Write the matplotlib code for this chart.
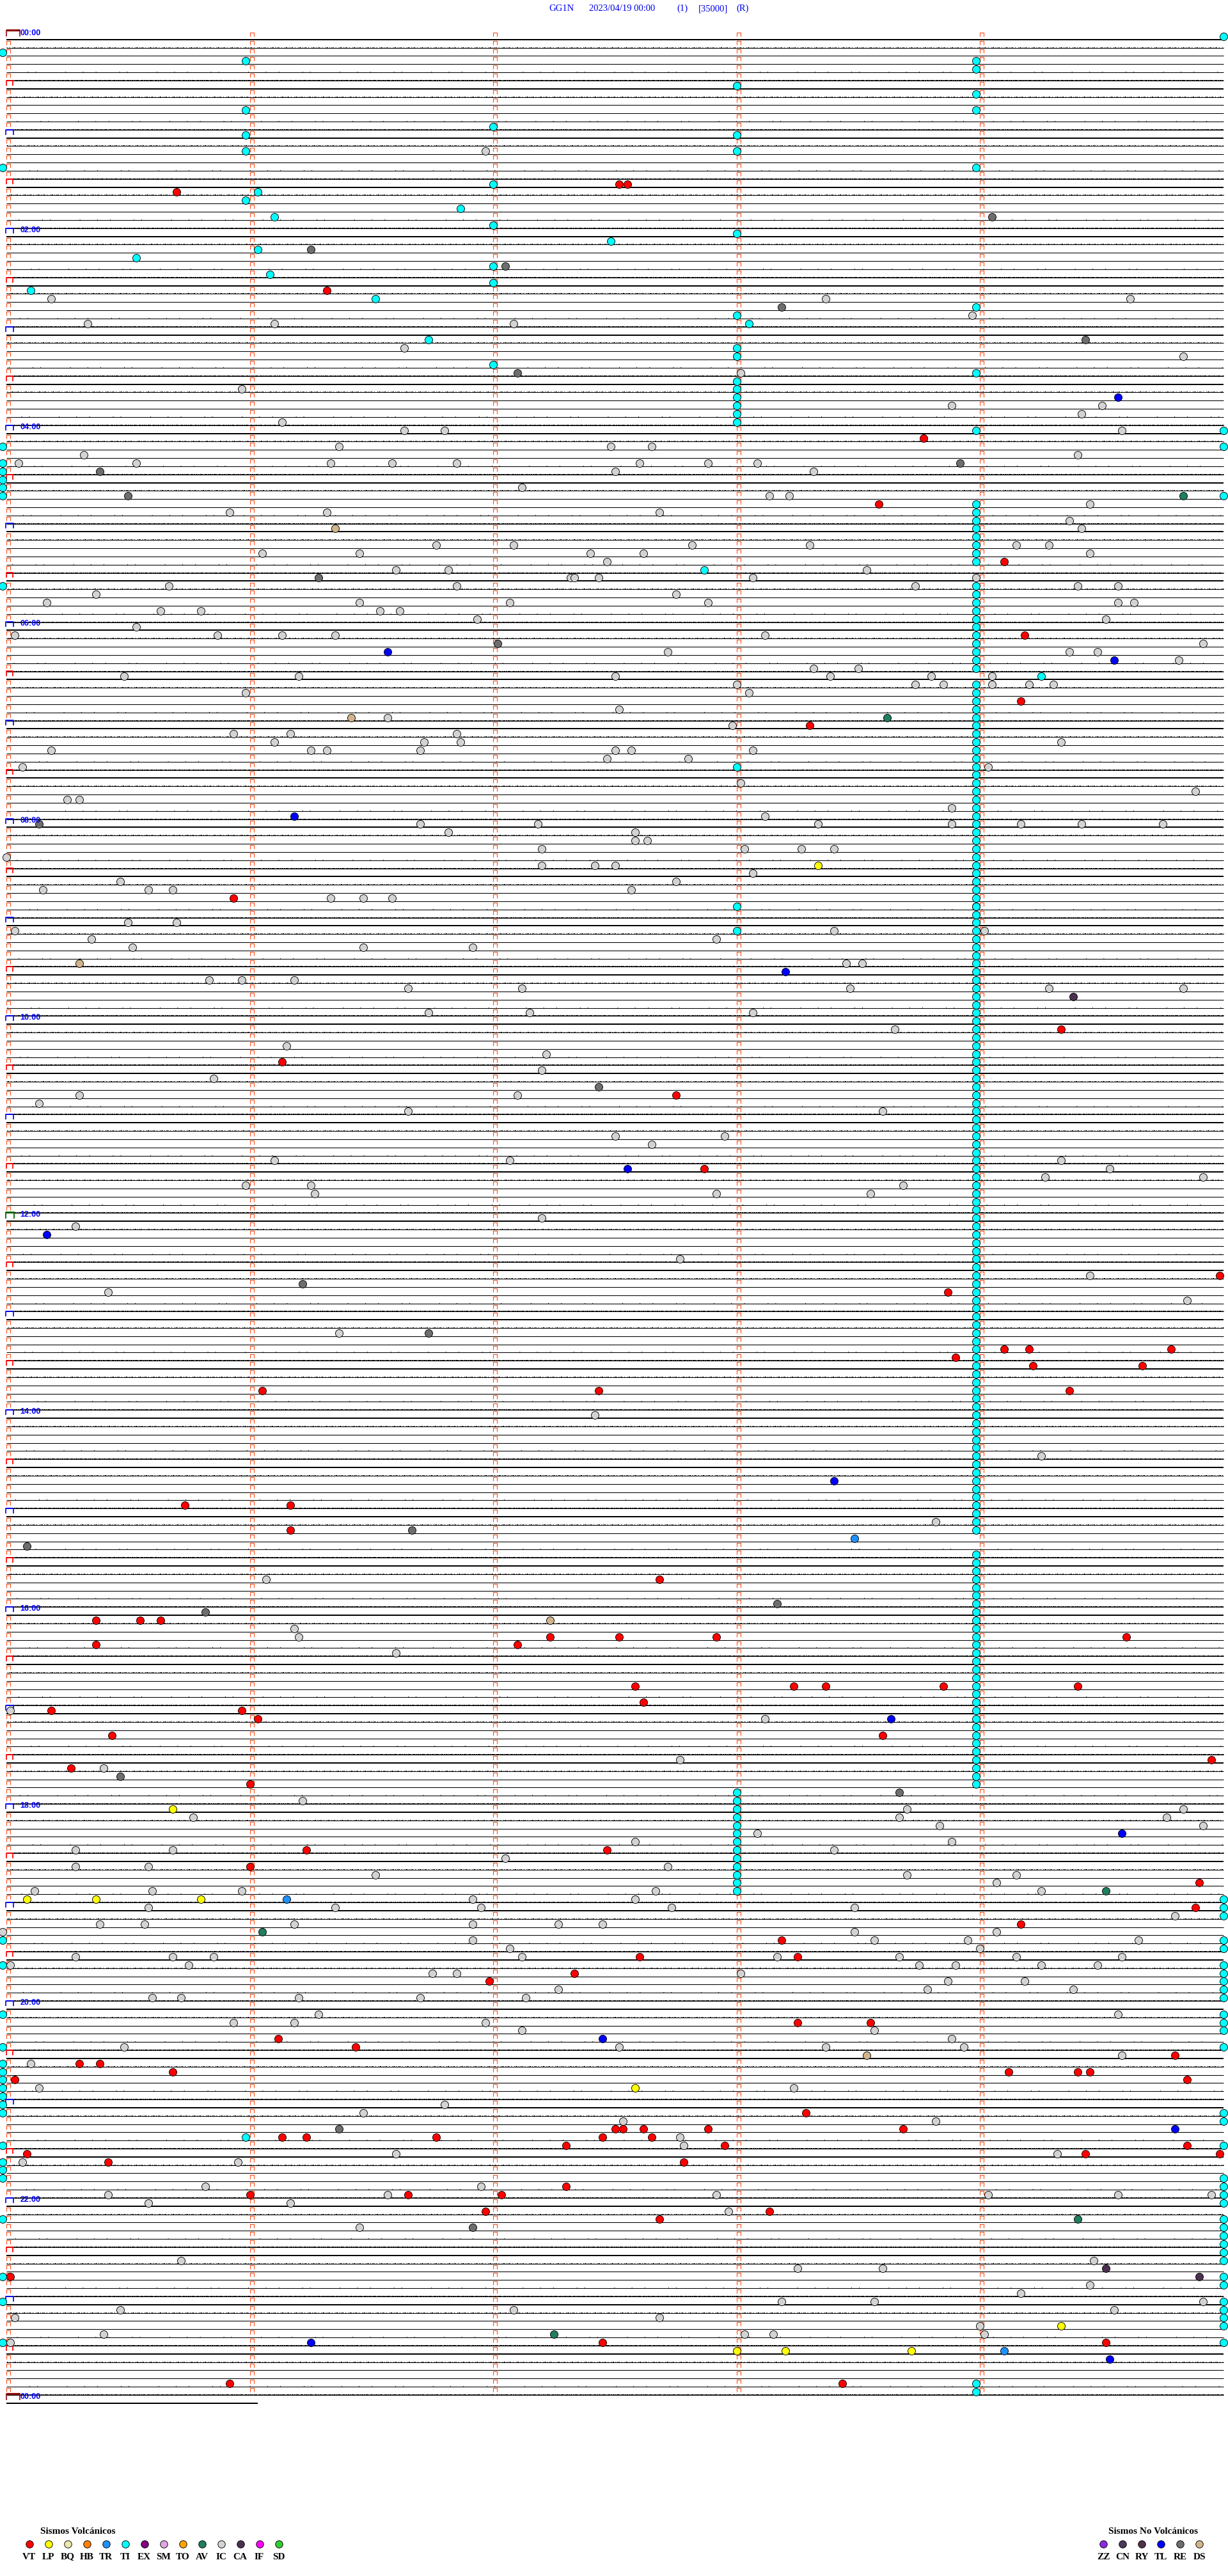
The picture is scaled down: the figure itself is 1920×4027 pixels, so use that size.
import matplotlib
matplotlib.use("Agg")
import matplotlib.pyplot as plt
from matplotlib.path import Path

plt.rcParams['lines.scale_dashes'] = False
plt.rcParams['font.family'] = ['Liberation Serif', 'DejaVu Serif']

# ------------------------------------------------------------------ data
TITLE_TOKENS = ["GG1N", "2023/04/19 00:00", "(1)", "[35000]", "(R)"]
N_TRACES = 288            # 5-minute traces over 24 h
SEC_PER_LINE = 300
LAST_TRACE_SEC = 62        # partial trace starting 24:00
HOUR_LABELS = ['00:00', '02:00', '04:00', '06:00', '08:00', '10:00', '12:00',
               '14:00', '16:00', '18:00', '20:00', '22:00', '00:00']
HOUR_LABEL_LINES = [0, 24, 48, 72, 96, 120, 144, 168, 192, 216, 240, 264, 288]

# TI events that sit on the minute columns: (second in trace, [trace indices])
TI_COL_SEC = [-1, 59, 120, 180, 239, 300]
TI_COL_LINES = [
    [2, 16, 50, 52, 53, 54, 55, 56, 67, 232, 235, 241, 245, 247, 248, 249, 250, 251,
     252, 253, 257, 259, 260, 261, 266, 273, 276, 281],
    [3, 9, 12, 14, 20, 256],
    [11, 18, 23, 28, 30, 40],
    [6, 12, 14, 24, 34, 38, 39, 42, 43, 44, 45, 46, 47, 89, 106, 109, 214, 215, 216,
     217, 218, 219, 220, 221, 222, 223, 224, 225, 226],
    [3, 4, 7, 9, 16, 33, 41, 48, 57, 58, 59, 60, 61, 62, 63, 64, 67, 68, 69, 70, 71, 72,
     73, 74, 75, 76, 77, 79, 80, 81, 82, 83, 84, 85, 86, 87, 88, 89, 90, 91, 92, 93, 94,
     95, 96, 97, 98, 99, 100, 101, 102, 103, 104, 105, 106, 107, 108, 109, 110, 111, 112,
     113, 114, 115, 116, 117, 118, 119, 120, 121, 122, 123, 124, 125, 126, 127, 128, 129,
     130, 131, 132, 133, 134, 135, 136, 137, 138, 139, 140, 141, 142, 143, 144, 145, 146,
     147, 148, 149, 150, 151, 152, 153, 154, 155, 156, 157, 158, 159, 160, 161, 162, 163,
     164, 165, 166, 167, 168, 169, 170, 171, 172, 173, 174, 175, 176, 177, 178, 179, 180,
     181, 182, 185, 186, 187, 188, 189, 190, 191, 192, 193, 194, 195, 196, 197, 198, 199,
     200, 201, 202, 203, 204, 205, 206, 207, 208, 209, 210, 211, 212, 213, 286, 287],
    [0, 48, 50, 56, 227, 228, 229, 232, 233, 235, 236, 237, 238, 239, 241, 242, 243, 245,
     253, 254, 257, 261, 262, 263, 264, 266, 267, 268, 269, 270, 271, 273, 274, 276, 277,
     278, 279, 281],
]
# other events: (trace index, second within trace)
TI_OTHER = [(19, 62), (21, 112), (22, 66), (25, 149), (26, 62), (27, 32), (29, 65), (31, 6),
            (32, 91), (35, 183), (37, 104), (65, 172), (78, 255)]

IC = [(14, 118), (32, 11), (32, 202), (32, 277), (34, 238), (35, 20), (35, 66), (35, 125),
      (38, 98), (39, 290), (41, 181), (43, 58), (45, 233), (45, 270), (46, 265), (47, 68),
      (48, 98), (48, 108), (48, 275), (50, 82), (50, 149), (50, 159), (51, 19), (51, 264),
      (52, 3), (52, 32), (52, 80), (52, 95), (52, 111), (52, 156), (52, 173), (52, 185),
      (53, 150), (53, 199), (55, 127), (56, 188), (56, 193), (57, 267), (58, 55), (58, 79),
      (58, 161), (59, 262), (60, 265), (62, 106), (62, 125), (62, 169), (62, 198), (62, 249),
      (62, 257), (63, 63), (63, 87), (63, 144), (63, 157), (63, 267), (64, 148), (65, 96),
      (65, 109), (65, 212), (66, 139), (66, 140), (66, 146), (66, 184), (66, 239), (67, 40),
      (67, 111), (67, 224), (67, 264), (67, 274), (68, 22), (68, 165), (69, 10), (69, 87),
      (69, 124), (69, 173), (69, 274), (69, 278), (70, 38), (70, 48), (70, 92), (70, 97),
      (71, 116), (71, 271), (72, 32), (73, 2), (73, 52), (73, 68), (73, 81), (73, 187),
      (74, 295), (75, 163), (75, 262), (75, 269), (76, 289), (77, 199), (77, 210), (78, 29),
      (78, 72), (78, 150), (78, 203), (78, 228), (78, 243), (79, 180), (79, 224), (79, 231),
      (79, 243), (79, 252), (79, 258), (80, 59), (80, 183), (82, 151), (83, 94), (84, 179),
      (85, 56), (85, 70), (85, 111), (86, 66), (86, 103), (86, 112), (86, 260), (87, 11),
      (87, 75), (87, 79), (87, 102), (87, 150), (87, 154), (87, 184), (88, 148), (88, 168),
      (89, 4), (89, 242), (91, 181), (92, 293), (93, 15), (93, 18), (94, 233), (95, 187),
      (96, 102), (96, 131), (96, 200), (96, 233), (96, 250), (96, 265), (96, 285), (97, 109),
      (97, 155), (98, 155), (98, 158), (99, 132), (99, 182), (99, 196), (99, 204), (100, 0),
      (101, 132), (101, 145), (101, 150), (102, 184), (103, 28), (103, 165), (104, 9),
      (104, 35), (104, 41), (104, 154), (105, 80), (105, 88), (105, 95), (106, 239),
      (108, 30), (108, 42), (109, 2), (109, 204), (109, 241), (110, 21), (110, 175),
      (111, 31), (111, 88), (111, 115), (113, 207), (113, 211), (115, 50), (115, 58),
      (115, 71), (116, 99), (116, 127), (116, 208), (116, 257), (116, 290), (119, 104),
      (119, 129), (119, 184), (121, 219), (123, 69), (124, 133), (126, 132), (127, 51),
      (129, 18), (129, 126), (130, 8), (131, 99), (131, 216), (134, 150), (134, 177),
      (135, 159), (137, 66), (137, 124), (137, 260), (138, 272), (139, 256), (139, 295),
      (140, 59), (140, 75), (140, 221), (141, 76), (141, 175), (141, 213), (144, 132),
      (145, 17), (149, 166), (151, 267), (153, 25), (154, 291), (158, 82), (168, 145),
      (173, 255), (181, 229), (188, 64), (194, 71), (195, 72), (197, 96), (204, 1),
      (205, 187), (210, 166), (211, 24), (215, 73), (216, 222), (216, 290), (217, 46),
      (217, 220), (217, 286), (218, 230), (218, 295), (219, 185), (220, 155), (220, 233),
      (221, 17), (221, 41), (221, 204), (222, 123), (223, 17), (223, 35), (223, 163),
      (224, 91), (224, 222), (224, 249), (225, 244), (226, 7), (226, 36), (226, 58),
      (226, 160), (226, 255), (227, 115), (227, 155), (228, 35), (228, 81), (228, 117),
      (228, 164), (228, 209), (229, 288), (230, 23), (230, 34), (230, 71), (230, 115),
      (230, 136), (230, 147), (231, -1), (231, 209), (231, 244), (232, 115), (232, 214),
      (232, 237), (232, 279), (233, 124), (233, 240), (234, 17), (234, 41), (234, 51),
      (234, 127), (234, 190), (234, 220), (234, 249), (234, 275), (235, 1), (235, 45),
      (235, 225), (235, 234), (235, 255), (235, 269), (236, 105), (236, 111), (236, 181),
      (237, 232), (237, 251), (238, 136), (238, 227), (238, 263), (239, 36), (239, 43),
      (239, 72), (239, 102), (239, 128), (241, 77), (241, 274), (242, 56), (242, 71),
      (242, 118), (243, 127), (243, 214), (244, 233), (245, 29), (245, 151), (245, 202),
      (245, 236), (246, 275), (247, 6), (250, 8), (250, 194), (252, 108), (253, 88),
      (254, 152), (254, 229), (256, 166), (257, 167), (258, 96), (258, 259), (259, 4),
      (259, 57), (262, 49), (262, 117), (263, 25), (263, 94), (263, 175), (263, 242),
      (263, 274), (263, 297), (264, 35), (264, 70), (265, 178), (267, 87), (271, 43),
      (271, 268), (272, 195), (272, 216), (274, 267), (275, 250), (276, 191), (276, 214),
      (276, 295), (277, 28), (277, 125), (277, 273), (278, 2), (278, 161), (279, 240),
      (280, 24), (280, 182), (280, 189), (280, 241), (281, 1)]

VT = [(18, 151), (18, 153), (19, 42), (31, 79), (49, 226), (57, 215), (64, 246), (73, 251),
      (81, 250), (84, 198), (105, 56), (121, 260), (125, 68), (129, 165), (138, 172),
      (151, 299), (153, 232), (160, 246), (160, 252), (160, 287), (161, 234), (162, 253),
      (162, 280), (165, 63), (165, 146), (165, 262), (179, 44), (179, 70), (182, 70),
      (188, 161), (193, 22), (193, 33), (193, 38), (195, 134), (195, 151), (195, 175),
      (195, 276), (196, 22), (196, 126), (201, 155), (201, 194), (201, 202), (201, 231),
      (201, 264), (203, 157), (204, 11), (204, 58), (205, 62), (207, 26), (207, 216),
      (210, 297), (211, 16), (213, 60), (221, 74), (221, 148), (223, 60), (225, 294),
      (228, 293), (230, 250), (232, 191), (234, 156), (234, 195), (236, 140), (237, 119),
      (242, 195), (242, 213), (244, 67), (245, 86), (246, 288), (247, 18), (247, 23),
      (248, 41), (248, 247), (248, 264), (248, 267), (249, 2), (249, 291), (253, 197),
      (255, 150), (255, 152), (255, 157), (255, 173), (255, 221), (256, 68), (256, 74),
      (256, 106), (256, 147), (256, 159), (257, 138), (257, 177), (257, 291), (258, 5),
      (258, 266), (258, 299), (259, 25), (259, 167), (262, 138), (263, 60), (263, 99),
      (263, 122), (265, 118), (265, 188), (266, 161), (273, 1), (281, 147), (281, 271),
      (286, 55), (286, 206)]

RE = [(22, 243), (26, 75), (28, 123), (33, 191), (37, 266), (41, 126), (52, 235), (53, 23),
      (56, 30), (66, 77), (74, 121), (96, 8), (128, 146), (152, 73), (158, 104), (182, 100),
      (184, 5), (191, 190), (192, 49), (212, 28), (214, 220), (255, 82), (267, 115)]
TL = [(44, 274), (75, 94), (76, 273), (95, 71), (114, 192), (138, 153), (146, 10), (176, 204),
      (205, 218), (219, 275), (244, 147), (255, 288), (281, 75), (283, 272)]
TR = [(183, 209), (227, 69), (282, 246)]
LP = [(101, 200), (216, 41), (227, 5), (227, 22), (227, 48), (250, 155), (279, 260),
      (282, 180), (282, 192), (282, 223)]
AV = [(56, 290), (83, 217), (226, 271), (231, 63), (266, 264), (280, 135)]
DS = [(60, 81), (83, 85), (113, 18), (193, 134), (246, 212)]
CA = [(117, 263), (272, 271), (273, 294)]

VOLC_CODES = ['VT', 'LP', 'BQ', 'HB', 'TR', 'TI', 'EX', 'SM', 'TO', 'AV', 'IC', 'CA', 'IF', 'SD']
VOLC_COLORS = ['#ff0000', '#ffff00', '#eee6a8', '#ff8000', '#1e90ff', '#00ffff', '#800080',
               '#e0a8e0', '#ffa500', '#1f7f5f', '#d3d3d3', '#4b3050', '#ff00ff', '#33cc33']
NONV_CODES = ['ZZ', 'CN', 'RY', 'TL', 'RE', 'DS']
NONV_COLORS = ['#8a2be2', '#4a3a5a', '#50304a', '#0000ff', '#6e6e6e', '#d2b48c']

# ------------------------------------------------------------------ layout
W, H, DPI = 1920, 4027, 100
X0, X1 = 10.0, 1913.0          # pixel extent of a trace
Y0, DYPX = 61.7, 12.83         # first trace pixel row and spacing
PXS = (X1 - X0) / SEC_PER_LINE
PT = 72.0 / DPI


def dx(px):
    return px / PXS


def dy(px):
    return px / DYPX


fig = plt.figure(figsize=(W / DPI, H / DPI), dpi=DPI)
fig.patch.set_facecolor('white')
ax = fig.add_axes([0, 0, 1, 1])
ax.set_xlim(-X0 / PXS, (W - X0) / PXS)
ax.set_ylim((H - Y0) / DYPX, -Y0 / DYPX)
ax.axis('off')

# ------------------------------------------------------------------ traces
DENSE = (2.2, 0.5, 1.4, 0.5, 3.6, 0.7, 0.7, 0.5, 2.9, 0.6, 1.6, 0.5)
DOTTED = (0.6, 1.4, 0.6, 0.7, 1.2, 2.2, 0.6, 3.0, 0.6, 1.0, 1.6, 1.8)
SPARSE = (0.6, 14, 0.6, 26, 0.6, 8, 0.6, 33, 0.6, 19)
for i in range(N_TRACES + 1):
    k = i % 6
    end = SEC_PER_LINE if i < N_TRACES else LAST_TRACE_SEC
    lw = 2.0 if k == 0 else 1.05
    ax.plot([0, end], [i, i], color='black', lw=lw * PT, solid_capstyle='butt', zorder=1)
    off = (i * 3.7) % 9
    if k == 5:
        ax.plot([0, end], [i - dy(1.0)] * 2, color='black', lw=1.0 * PT,
                ls=(off, DENSE), zorder=1)
    elif k == 1:
        ax.plot([0, end], [i - dy(1.0)] * 2, color='black', lw=1.0 * PT,
                ls=(off, DOTTED), zorder=1)
    elif k == 4:
        ax.plot([0, end], [i - dy(1.0)] * 2, color='black', lw=1.2 * PT,
                ls=(off * 3, SPARSE), zorder=1)

# ------------------------------------------------------------------ minute marks
UPATH = Path([(-1, -1), (-1, 1), (1, 1), (1, -1)],
             [Path.MOVETO, Path.LINETO, Path.LINETO, Path.LINETO])
UBIG = Path([(-1, -0.75), (-1, 0.75), (1, 0.75), (1, -0.75)],
            [Path.MOVETO, Path.LINETO, Path.LINETO, Path.LINETO])
UWIDE = Path([(-1, -0.48), (-1, 0.48), (1, 0.48), (1, -0.48)],
             [Path.MOVETO, Path.LINETO, Path.LINETO, Path.LINETO])
TOPBAR = Path([(-1, 0.48), (1, 0.48)], [Path.MOVETO, Path.LINETO])

red_lines = list(range(6, N_TRACES, 12))
blue_lines = list(range(12, N_TRACES, 24)) + [n for n in HOUR_LABEL_LINES[1:-1] if n != 144]
special = set(HOUR_LABEL_LINES) | set(red_lines) | set(blue_lines)
mx, my = [], []
for i in range(N_TRACES):
    for m in range(5):
        if m == 0 and i in special:
            continue
        mx.append(m * 60 + dx(3))
        my.append(i - dy(7.8))
ax.plot(mx, my, ls='none', marker=UPATH, ms=6 * PT, mfc='none', mec='#ff4a14',
        mew=1.1 * PT, zorder=2)

ax.plot([dx(4.5)] * len(red_lines), [i - dy(9) for i in red_lines], ls='none', marker=UBIG,
        ms=10 * PT, mfc='none', mec='#ff0000', mew=1.7 * PT, zorder=2)
ax.plot([dx(5)] * len(blue_lines), [i - dy(9) for i in blue_lines], ls='none', marker=UBIG,
        ms=11.5 * PT, mfc='none', mec='#0000ff', mew=1.7 * PT, zorder=2)
ax.plot([dx(5)], [144 - dy(9)], ls='none', marker=UBIG, ms=13 * PT, mfc='none',
        mec='#006400', mew=1.8 * PT, zorder=2)
ax.plot([dx(5)], [144 - dy(9)], ls='none', marker=Path([(-1, 0.75), (1, 0.75)]),
        ms=13 * PT, mec='#006400', mew=3 * PT, zorder=2)
for n in (HOUR_LABEL_LINES[0], HOUR_LABEL_LINES[-1]):
    ax.plot([dx(9.5)], [n - dy(10)], ls='none', marker=UWIDE, ms=21 * PT, mfc='none',
            mec='#8b0000', mew=1.6 * PT, zorder=2)
    ax.plot([dx(9.5)], [n - dy(10)], ls='none', marker=TOPBAR, ms=21 * PT,
            mec='#8b0000', mew=3.2 * PT, zorder=2)

for lab, n in zip(HOUR_LABELS, HOUR_LABEL_LINES):
    ax.text(dx(21.5), n - dy(10), lab, family=['Liberation Sans', 'DejaVu Sans'],
            fontweight='bold', fontsize=9, color='#0000ff', ha='left', va='center',
            zorder=4)

# ------------------------------------------------------------------ events
CIRCLE = 12 * PT


def draw_events(pairs, color):
    ys = [p[0] - dy(5) for p in pairs]
    xs = [p[1] for p in pairs]
    ax.plot(xs, ys, ls='none', marker='o', ms=CIRCLE, mfc=color, mec='black',
            mew=0.9 * PT, zorder=3)


ti_pairs = [(n, s) for s, lines in zip(TI_COL_SEC, TI_COL_LINES) for n in lines] + TI_OTHER
draw_events(IC, '#d3d3d3')
draw_events(ti_pairs, '#00ffff')
draw_events(RE, '#6e6e6e')
draw_events(DS, '#d2b48c')
draw_events(AV, '#1f7f5f')
draw_events(CA, '#4b3050')
draw_events(LP, '#ffff00')
draw_events(TR, '#1e90ff')
draw_events(TL, '#0000ff')
draw_events(VT, '#ff0000')

# ------------------------------------------------------------------ title
title_x = [858, 921, 1058, 1092, 1151]
for tok, xp in zip(TITLE_TOKENS, title_x):
    fig.text(xp / W, 1 - 13.5 / H, tok, fontsize=10.5, color='#0000ee', ha='left',
             va='center')

# ------------------------------------------------------------------ legends
lg = fig.add_axes([0, 0, 1, 1])
lg.set_xlim(0, W)
lg.set_ylim(H, 0)
lg.axis('off')
lg.patch.set_alpha(0)

lg.text(63, 3957, 'Sismos Volcánicos', fontsize=11, fontweight='bold', ha='left',
        va='center', color='black')
vx = [45.5 + 30 * k for k in range(len(VOLC_CODES))]
for xk, code, col in zip(vx, VOLC_CODES, VOLC_COLORS):
    lg.plot([xk], [3977], ls='none', marker='o', ms=11.5 * PT, mfc=col, mec='black',
            mew=0.9 * PT)
    lg.text(xk, 3997, code, fontsize=11, fontweight='bold', ha='center', va='center')

lg.text(1733, 3957, 'Sismos No Volcánicos', fontsize=11, fontweight='bold', ha='left',
        va='center', color='black')
nx = [1725.3 + 30 * k for k in range(len(NONV_CODES))]
for xk, code, col in zip(nx, NONV_CODES, NONV_COLORS):
    lg.plot([xk], [3977], ls='none', marker='o', ms=11.5 * PT, mfc=col, mec='black',
            mew=0.9 * PT)
    lg.text(xk, 3997, code, fontsize=11, fontweight='bold', ha='center', va='center')

fig.savefig('out.png', dpi=DPI, facecolor='white')
